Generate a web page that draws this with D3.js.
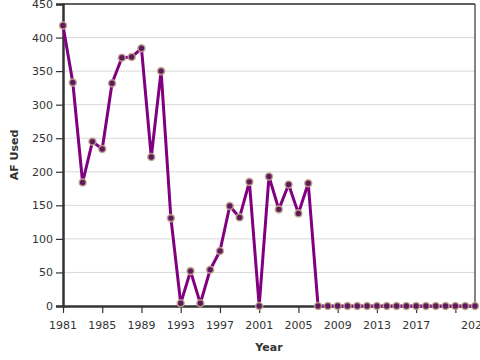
<!DOCTYPE html>
<html><head><meta charset="utf-8">
<script src="https://cdn.jsdelivr.net/npm/d3@7"></script>
<style>body{margin:0;background:#fff}svg{display:block}text{font-family:"DejaVu Sans",sans-serif}</style>
</head><body>
<svg id="c" width="480" height="360"></svg>
<script>
const years = d3.range(1981, 2024);
const afUsed = [418,333,184,245,234,332,370,371,384,222,350,131,4,52,4,54,82,149,132,185,0,193,144,181,138,183,
  0,0,0,0,0,0,0,0,0,0,0,0,0,0,0,0,0];
const yTicks = [0,50,100,150,200,250,300,350,400,450];
const xTicks = [1981,1985,1989,1993,1997,2001,2005,2009,2013,2017,2021];
const xLabels = [1981,1985,1989,1993,1997,2001,2005,2009,2013,2017,2023];

const svg = d3.select("#c");
const m = {l:63, r:5, t:4, b:54};
const W = 480, H = 360;
const x = d3.scaleLinear().domain([1981,2023]).range([m.l, W-m.r]);
const y = d3.scaleLinear().domain([0,450]).range([H-m.b, m.t]);

// grid
svg.append("g").selectAll("line").data(yTicks.slice(1)).join("line")
  .attr("x1", m.l).attr("x2", W-m.r).attr("y1", d=>y(d)).attr("y2", d=>y(d))
  .attr("stroke", "#d9d9d9").attr("stroke-width", 1);

// frame top & right
svg.append("line").attr("x1", m.l).attr("x2", W-m.r).attr("y1", y(450)).attr("y2", y(450)).attr("stroke","#333").attr("stroke-width",1.5);
svg.append("line").attr("x1", x(2023)).attr("x2", x(2023)).attr("y1", y(450)).attr("y2", y(0)).attr("stroke","#333").attr("stroke-width",1.2);

// y axis
const ya = svg.append("g").attr("transform", `translate(${m.l},0)`)
  .call(d3.axisLeft(y).tickValues(yTicks).tickSize(7).tickPadding(3));
ya.select(".domain").attr("stroke","#333").attr("stroke-width",2.5);
ya.selectAll(".tick line").attr("stroke","#333").attr("stroke-width",1.2);
ya.selectAll("text").attr("font-size", 11).attr("fill","#333").attr("font-family","DejaVu Sans");

// x axis
const xa = svg.append("g").attr("transform", `translate(0,${y(0)})`)
  .call(d3.axisBottom(x).tickValues(xTicks).tickSize(7).tickFormat(()=>"").tickSizeOuter(0));
xa.select(".domain").attr("stroke","#333").attr("stroke-width",2.5);
xa.selectAll(".tick line").attr("stroke","#333").attr("stroke-width",1.2);
svg.append("g").selectAll("text").data(xLabels).join("text")
  .attr("x", d=>x(d)).attr("y", y(0)+23).attr("text-anchor","middle")
  .attr("font-size", 11).attr("fill","#333").text(d=>d);

// titles
svg.append("text").attr("x", (m.l + W-m.r)/2).attr("y", 351).attr("text-anchor","middle")
  .attr("font-size", 11).attr("font-weight","bold").attr("fill","#333").text("Year");
svg.append("text").attr("transform", `translate(18,${(m.t + H-m.b)/2}) rotate(-90)`).attr("text-anchor","middle")
  .attr("font-size", 11).attr("font-weight","bold").attr("fill","#333").text("AF Used");

// line
const data = years.map((yr,i)=>({yr, v: afUsed[i]}));
svg.append("path").datum(data)
  .attr("d", d3.line().x(d=>x(d.yr)).y(d=>y(d.v)))
  .attr("fill","none").attr("stroke","#800080").attr("stroke-width",3).attr("stroke-linejoin","round");
svg.append("g").selectAll("circle").data(data).join("circle")
  .attr("cx", d=>x(d.yr)).attr("cy", d=>y(d.v)).attr("r", 3.5)
  .attr("fill","#5e1a5e").attr("stroke","#c4aa8a").attr("stroke-opacity",0.85).attr("stroke-width",1.6);
</script>
</body></html>
